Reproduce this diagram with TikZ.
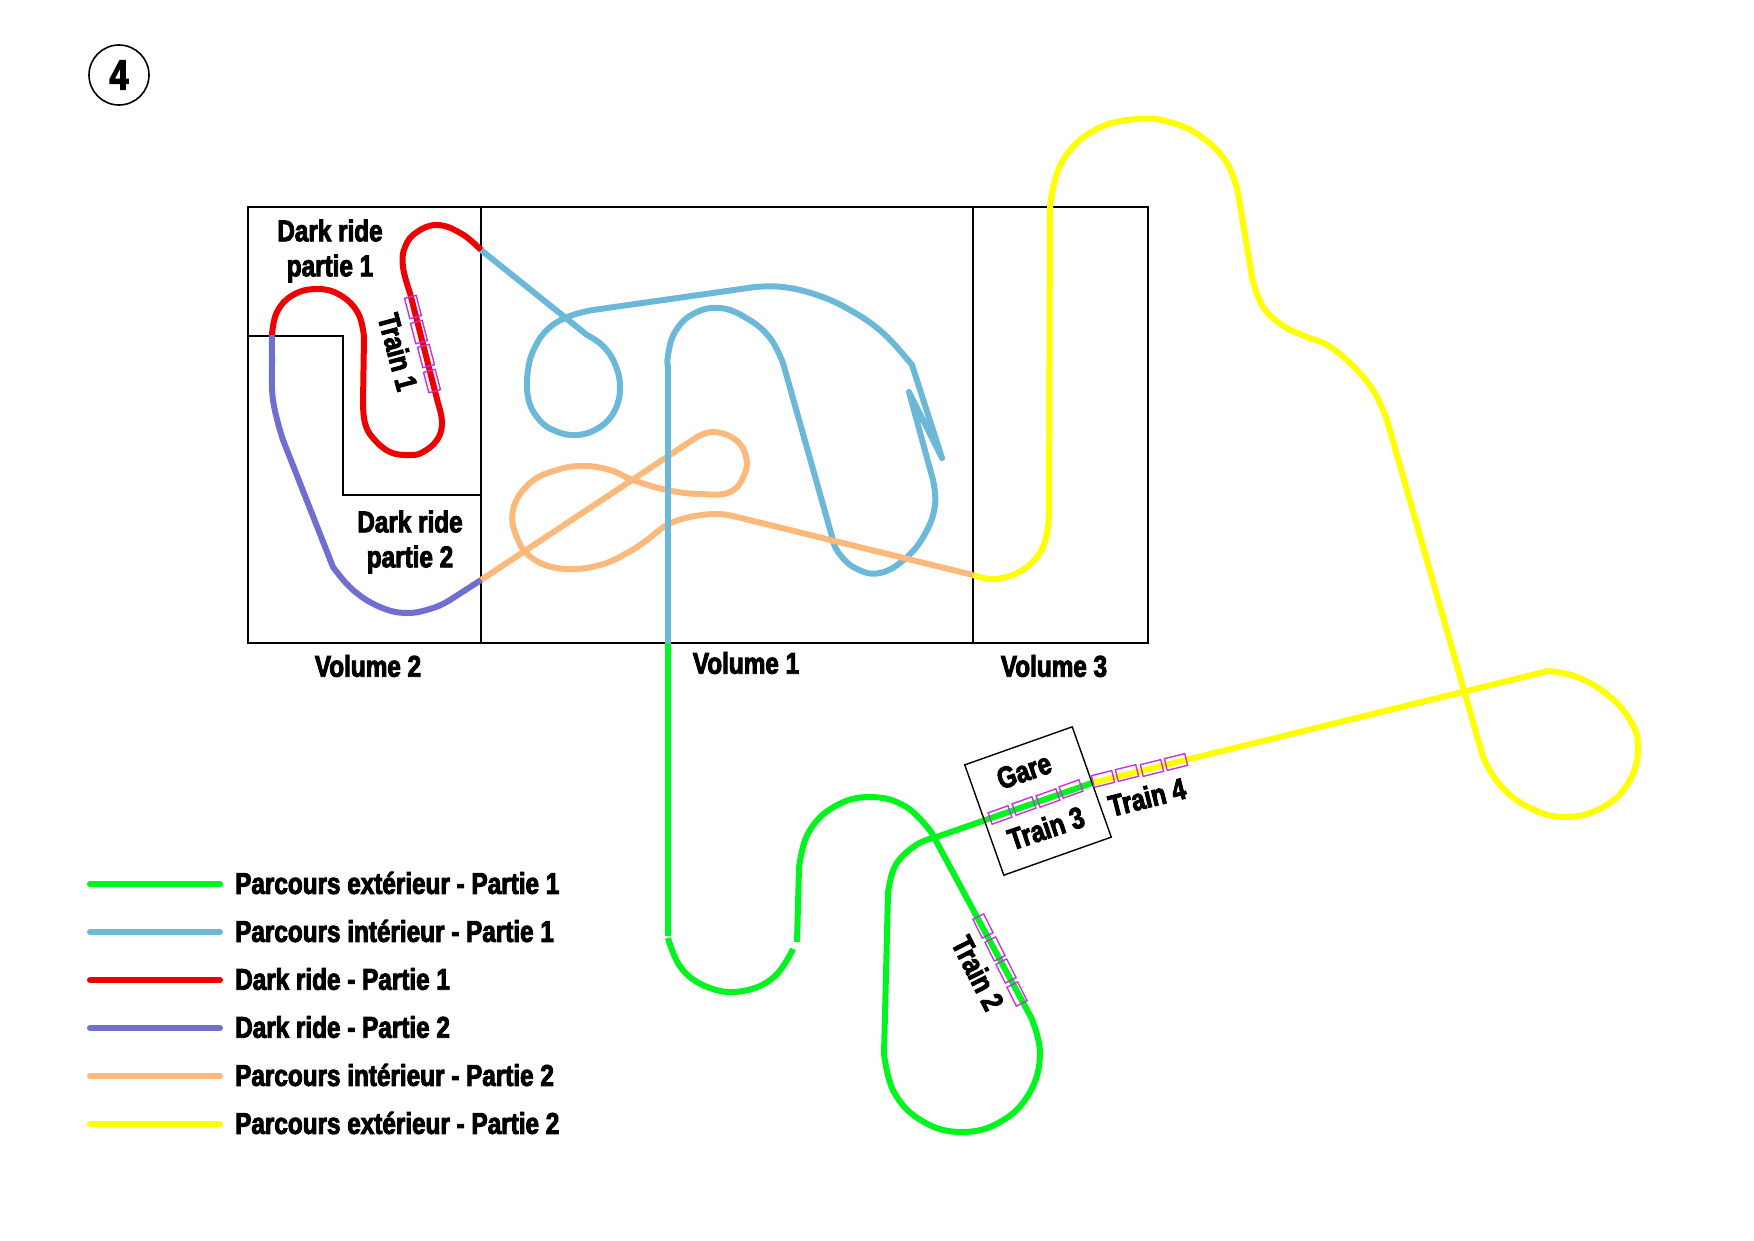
\documentclass[tikz,border=0pt]{standalone}
\usepackage{fontspec}
\newfontfamily\impactfont[FakeStretch=0.81,FakeBold=3]{Liberation Sans}
\definecolor{cGreen}{HTML}{00F51E}
\definecolor{cBlue}{HTML}{6CB8D8}
\definecolor{cRed}{HTML}{EE0000}
\definecolor{cViolet}{HTML}{6F6FD0}
\definecolor{cPeach}{HTML}{FDB97C}
\definecolor{cYellow}{HTML}{FFFF00}
\definecolor{cCar}{HTML}{C832DC}
\tikzset{
    CC1/.style ={circle,minimum size = 60pt, inner sep=0pt, draw, line width=1.6pt, font=\impactfont\bfseries\fontsize{42}{42}\selectfont},
    RA1/.style ={rectangle,minimum width = 21pt, minimum height =12pt, inner sep=0pt, draw=cCar, line width=1.4pt},
    RA2/.style ={rectangle,minimum width = 114pt, minimum height =117pt, inner sep=0pt, draw, line width=1.4pt},
    LA1/.style ={align=center,inner sep=0pt,font=\impactfont\bfseries\fontsize{30}{35}\selectfont},
    LE1/.style ={anchor=west,inner sep=0pt,font=\impactfont\bfseries\fontsize{30}{35}\selectfont},
    WA/.style ={line width=1.4pt,line join=miter},
    TK/.style ={line width=6pt,line join=round,smooth,tension=0.7},
    LG/.style ={line width=6pt,line cap=round}}
\begin{document}
\begin{tikzpicture}[x=1pt,y=-1pt]
    \useasboundingbox (0,0) rectangle (1754,1240);
    \node[CC1] (num) at(119,75){4};
    \draw[WA] (248,207) rectangle (1148,643);
    \draw[WA] (481,207) -- (481,643);
    \draw[WA] (973,207) -- (973,643);
    \draw[WA] (248,336) -- (343,336) -- (343,495) -- (481,495);
    \draw[TK,cBlue] (481,250) -- plot coordinates {(587,335) (603,346) (615,364) (620,387) (615,410) (600,427) (577,435) (553,430) (537,417) (528,397) (528,370) (535,347) (549,328) (570,316) (593,310)}
        -- plot coordinates {(755,287) (783,287) (817,295) (850,310) (883,333) (912,365)}
        -- (942,458) -- (909,392) -- plot coordinates {(933,480) (935,505) (926,532) (907,557) (880,573) (855,568) (838,552) (833,540)}
        -- plot coordinates {(783,363) (770,338) (748,319) (720,308) (693,314) (675,332) (668,355) (668,367)};
    \draw[TK,cPeach] (481,580) -- plot coordinates {(697,437) (713,432) (733,438) (745,453) (745,473) (730,492) (700,494) (667,490) (633,480) (610,470) (583,466) (557,470) (530,483) (513,510) (518,540) (535,560) (565,569) (600,565) (627,553) (647,540) (667,525) (690,517) (717,514) (737,517)} -- (973,575);
    \draw[TK,cBlue] (668,366) -- (668,643);
    \draw[TK,cRed] plot coordinates {(481,250) (462,234) (438,225) (417,232) (405,247) (403,267) (410,293)}
        -- plot coordinates {(438,403) (442,423) (437,440) (423,452) (410,455) (390,452) (373,438) (365,423) (363,403)}
        -- plot coordinates {(364,337) (358,313) (340,295) (317,289) (293,295) (277,312) (272,335)};
    \draw[TK,cViolet] plot coordinates {(272,335) (272,357) (273,400) (283,440)}
        -- plot coordinates {(333,567) (353,590) (380,607) (407,613) (433,608) (450,600)} -- (481,580);
    \draw[TK,cGreen] (668,643) -- (668,936);
    \draw[TK,cGreen] plot coordinates {(668,938) (682,969) (710,988) (743,991) (774,977) (793,949)};
    \draw[TK,cGreen] (797,942) -- plot coordinates {(799,868) (808.5,832.5) (834.5,806.5) (870,797) (905.5,806.5) (931.5,832.5)}
        -- plot coordinates {(1031.4,1018) (1040,1054) (1029.5,1093) (1001,1121.5) (962,1132) (923,1121.5) (894.5,1093) (884,1054)}
        -- plot coordinates {(888,893) (895.4,865.5) (915.5,845.4) (935,837.5)} -- (1092,783);
    \draw[TK,cYellow] (1092,783) -- plot coordinates {(1548,671) (1577,677) (1608,695) (1630,720) (1638,747) (1630,780) (1605,806) (1567,817) (1530,808) (1500,785) (1483,757)}
        -- plot coordinates {(1387,420) (1373,390) (1350,363) (1327,345) (1307,337) (1282,325) (1262,305) (1252,277)}
        -- plot coordinates {(1238,193) (1227,163) (1203,138) (1173,123) (1137,119) (1093.5,130.7) (1061.7,162.5) (1050,206)}
        -- plot coordinates {(1049,517) (1043,547) (1024,569) (996,579) (973,575)};
    \node[RA2,rotate=19.5] (gare) at(1038,801){};
    \node[RA1,rotate=-75.4] (t11) at(413,307){};
    \node[RA1,rotate=-75.4] (t12) at(419,332){};
    \node[RA1,rotate=-75.4] (t13) at(426,356){};
    \node[RA1,rotate=-75.4] (t14) at(432,381){};
    \node[RA1,rotate=-63.4] (t21) at(983,926){};
    \node[RA1,rotate=-63.4] (t22) at(995,949){};
    \node[RA1,rotate=-63.4] (t23) at(1006,971){};
    \node[RA1,rotate=-63.4] (t24) at(1017,994){};
    \node[RA1,rotate=19.7] (t31) at(1000,815){};
    \node[RA1,rotate=19.7] (t32) at(1024,806){};
    \node[RA1,rotate=19.7] (t33) at(1048,798){};
    \node[RA1,rotate=19.7] (t34) at(1071,789){};
    \node[RA1,rotate=14] (t41) at(1103,779){};
    \node[RA1,rotate=14] (t42) at(1127,773){};
    \node[RA1,rotate=14] (t43) at(1152,768){};
    \node[RA1,rotate=14] (t44) at(1176,762){};
    \node[LA1] (dr1) at(330,251){Dark ride\\partie 1};
    \node[LA1] (dr2) at(410,542){Dark ride\\partie 2};
    \node[LA1] (vol2) at(368,666){Volume 2};
    \node[LA1] (vol1) at(746,663){Volume 1};
    \node[LA1] (vol3) at(1054,666){Volume 3};
    \node[LA1,rotate=-75] (tr1) at(398,352){Train 1};
    \node[LA1,rotate=-63] (tr2) at(978,973){Train 2};
    \node[LA1,rotate=18.5] (tr3) at(1046,828){Train 3};
    \node[LA1,rotate=14] (tr4) at(1147,797){Train 4};
    \node[LA1,rotate=19] (garel) at(1024,771){Gare};
    \draw[LG,cGreen] (90,884) -- (220,884);
    \draw[LG,cBlue] (90,932) -- (220,932);
    \draw[LG,cRed] (90,980) -- (220,980);
    \draw[LG,cViolet] (90,1028) -- (220,1028);
    \draw[LG,cPeach] (90,1076) -- (220,1076);
    \draw[LG,cYellow] (90,1124) -- (220,1124);
    \node[LE1] (le1) at(235,883){Parcours extérieur - Partie 1};
    \node[LE1] (le2) at(235,931){Parcours intérieur - Partie 1};
    \node[LE1] (le3) at(235,979){Dark ride - Partie 1};
    \node[LE1] (le4) at(235,1027){Dark ride - Partie 2};
    \node[LE1] (le5) at(235,1075){Parcours intérieur - Partie 2};
    \node[LE1] (le6) at(235,1123){Parcours extérieur - Partie 2};
\end{tikzpicture}
\end{document}
